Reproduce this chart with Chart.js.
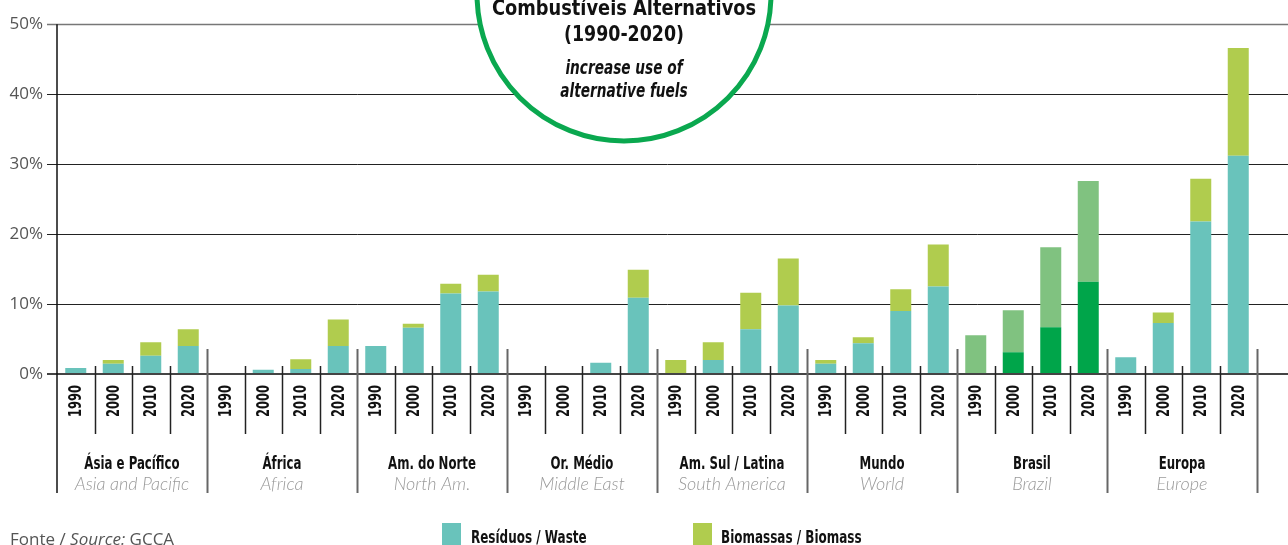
<!DOCTYPE html>
<html>
<head>
<meta charset="utf-8">
<script src="https://cdn.jsdelivr.net/npm/chart.js@4"></script>
<style>
  html, body { margin: 0; padding: 0; background: #fff; }
  canvas { display: block; }
</style>
</head>
<body>
<canvas id="fuelChart" width="1288" height="545"></canvas>
<script>
var regions = ['Ásia e Pacífico', 'África', 'Am. do Norte', 'Or. Médio', 'Am. Sul / Latina', 'Mundo', 'Brasil', 'Europa'];
var regionsEn = ['Asia and Pacific', 'Africa', 'North Am.', 'Middle East', 'South America', 'World', 'Brazil', 'Europe'];
var years = ['1990', '2000', '2010', '2020'];
var yTicks = [0, 10, 20, 30, 40, 50];

// % share per region, in year order 1990..2020
var waste = [
  0.85, 1.45, 2.6, 4.0,
  0, 0.6, 0.7, 4.0,
  4.0, 6.6, 11.5, 11.8,
  0, 0, 1.6, 10.9,
  0, 2.0, 6.4, 9.8,
  1.45, 4.4, 9.0, 12.5,
  0, 3.1, 6.7, 13.2,
  2.4, 7.3, 21.8, 31.2
];
var biomass = [
  0, 0.55, 1.95, 2.4,
  0, 0, 1.4, 3.8,
  0, 0.6, 1.4, 2.4,
  0, 0, 0, 4.0,
  2.0, 2.55, 5.2, 6.7,
  0.55, 0.85, 3.1, 6.0,
  5.55, 6.0, 11.4, 14.4,
  0, 1.5, 6.1, 15.4
];

var TEAL = '#69c3bb', LIME = '#b0cc4e';
var BR_DARK = '#00a54a', BR_LIGHT = '#80c280';
var NARROW = "'DejaVu Sans Condensed', 'DejaVu Sans', sans-serif";
var LIGHT = "'Open Sans', 'Noto Sans', sans-serif";
var THIN = "Lato, 'Open Sans', sans-serif";

var labels = [];
var wasteColors = [];
var bioColors = [];
regions.forEach(function(r) {
  years.forEach(function(y) {
    labels.push(y);
    var isBrazil = r === 'Brasil';
    wasteColors.push(isBrazil ? BR_DARK : TEAL);
    bioColors.push(isBrazil ? BR_LIGHT : LIME);
  });
});

// text squeezed horizontally, the bold face has no narrow cut installed
function narrowText(ctx, text, x, y, sx, angle) {
  ctx.save();
  ctx.translate(x, y);
  if (angle) ctx.rotate(angle);
  ctx.scale(sx, 1);
  ctx.fillText(text, 0, 0);
  ctx.restore();
}

// grid, axes, separators and all the hand-placed text
var framePlugin = {
  id: 'frame',
  beforeDatasetsDraw: function(chart) {
    var ctx = chart.ctx, y = chart.scales.y;
    ctx.save();
    yTicks.forEach(function(t) {
      if (t === 0) return;
      var py = Math.round(y.getPixelForValue(t)) + 0.5;
      ctx.strokeStyle = t === 50 ? '#777' : '#222';
      ctx.lineWidth = t === 50 ? 1.6 : 1;
      ctx.beginPath();
      ctx.moveTo(47, py);
      ctx.lineTo(chart.width, py);
      ctx.stroke();
    });
    ctx.restore();
  },
  afterDatasetsDraw: function(chart) {
    var ctx = chart.ctx, x = chart.scales.x, y = chart.scales.y;
    var area = chart.chartArea;
    var slot = (area.right - area.left) / labels.length;
    var y0 = y.getPixelForValue(0);
    ctx.save();

    // zero line
    ctx.strokeStyle = '#444';
    ctx.lineWidth = 2;
    ctx.beginPath();
    ctx.moveTo(47, y0);
    ctx.lineTo(chart.width, y0);
    ctx.stroke();

    // left axis
    ctx.strokeStyle = '#111';
    ctx.lineWidth = 1.5;
    ctx.beginPath();
    ctx.moveTo(area.left, area.top);
    ctx.lineTo(area.left, 493);
    ctx.stroke();

    // year and region separators
    for (var k = 1; k <= labels.length; k++) {
      var px = Math.round(area.left + k * slot) + 0.5;
      ctx.beginPath();
      if (k % 4 === 0) {
        ctx.strokeStyle = '#666';
        ctx.lineWidth = 2;
        ctx.moveTo(px, 349);
        ctx.lineTo(px, 493);
      } else {
        ctx.strokeStyle = '#222';
        ctx.lineWidth = 1.5;
        ctx.moveTo(px, 366);
        ctx.lineTo(px, 434);
      }
      ctx.stroke();
    }

    // rotated year labels
    ctx.fillStyle = '#111';
    ctx.font = 'bold 18px ' + NARROW;
    ctx.textAlign = 'center';
    ctx.textBaseline = 'middle';
    labels.forEach(function(l, i) {
      var sx = 32 / ctx.measureText(l).width;
      narrowText(ctx, l, x.getPixelForValue(i) + 1, 401, sx, -Math.PI / 2);
    });

    // region names
    ctx.textBaseline = 'alphabetic';
    regions.forEach(function(r, i) {
      var cx = area.left + (i * 4 + 2) * slot;
      ctx.fillStyle = '#111';
      ctx.font = 'bold 17px ' + NARROW;
      narrowText(ctx, r, cx, 469, 0.77);
      ctx.fillStyle = '#9a9a9a';
      ctx.font = 'italic 300 18px ' + THIN;
      ctx.fillText(regionsEn[i], cx, 490);
    });
    ctx.restore();
  },
  afterDraw: function(chart) {
    var ctx = chart.ctx;
    ctx.save();

    // title badge
    ctx.beginPath();
    ctx.arc(624, -6, 147, 0, Math.PI * 2);
    ctx.fillStyle = '#fff';
    ctx.fill();
    ctx.lineWidth = 5;
    ctx.strokeStyle = '#0aa84f';
    ctx.stroke();

    ctx.fillStyle = '#111';
    ctx.textAlign = 'center';
    ctx.font = 'bold 22px ' + NARROW;
    narrowText(ctx, 'Combustíveis Alternativos', 624, 15, 0.9);
    narrowText(ctx, '(1990-2020)', 624, 41, 0.88);
    ctx.font = 'italic bold 19px ' + NARROW;
    narrowText(ctx, 'increase use of', 624, 74, 0.8);
    narrowText(ctx, 'alternative fuels', 624, 97, 0.8);

    // legend
    ctx.textAlign = 'left';
    ctx.font = 'bold 18px ' + NARROW;
    ctx.fillStyle = TEAL;
    ctx.fillRect(442, 523, 19, 22);
    ctx.fillStyle = '#111';
    narrowText(ctx, 'Resíduos / Waste', 471, 543, 0.74);
    ctx.fillStyle = LIME;
    ctx.fillRect(693, 523, 19, 22);
    ctx.fillStyle = '#111';
    narrowText(ctx, 'Biomassas / Biomass', 721, 543, 0.74);

    // source
    ctx.fillStyle = '#555';
    ctx.font = '17px ' + LIGHT;
    var sx = 10;
    ctx.fillText('Fonte / ', sx, 545);
    sx += ctx.measureText('Fonte / ').width;
    ctx.font = 'italic 17px ' + LIGHT;
    ctx.fillText('Source:', sx, 545);
    sx += ctx.measureText('Source: ').width;
    ctx.font = '17px ' + LIGHT;
    ctx.fillText('GCCA', sx, 545);
    ctx.restore();
  }
};

var chart = new Chart(document.getElementById('fuelChart'), {
  type: 'bar',
  data: {
    labels: labels,
    datasets: [
      { label: 'Resíduos / Waste', data: waste, backgroundColor: wasteColors,
        barPercentage: 0.56, categoryPercentage: 1 },
      { label: 'Biomassas / Biomass', data: biomass, backgroundColor: bioColors,
        barPercentage: 0.56, categoryPercentage: 1 }
    ]
  },
  options: {
    responsive: false,
    animation: false,
    devicePixelRatio: 1,
    layout: { padding: { top: 23, right: 31, bottom: 171, left: 0 } },
    plugins: { legend: { display: false }, tooltip: { enabled: false } },
    scales: {
      x: { stacked: true, display: false },
      y: {
        stacked: true,
        min: 0,
        max: 50,
        afterFit: function(scale) { scale.width = 57; },
        afterBuildTicks: function(scale) {
          scale.ticks = yTicks.map(function(v) { return { value: v }; });
        },
        grid: { display: false, drawTicks: false },
        border: { display: false },
        ticks: {
          padding: 14,
          color: '#555',
          font: { family: LIGHT, size: 17 },
          callback: function(v) { return v + '%'; }
        }
      }
    }
  },
  plugins: [framePlugin]
});
</script>
</body>
</html>
